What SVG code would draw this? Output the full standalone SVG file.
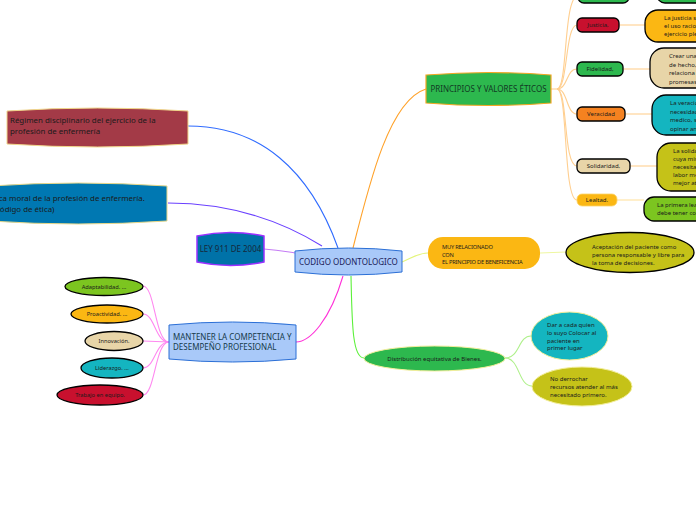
<svg xmlns="http://www.w3.org/2000/svg" width="696" height="520" viewBox="0 0 696 520">
<style>
text{font-family:"Noto Sans","Open Sans",sans-serif;fill:#1b1b1b}
.big{font-size:8px}
.mid{font-size:7.9px}
.sm{font-size:6px}
.xs{font-size:5.7px}
.blk{stroke:#000;stroke-width:1.3}
.c{fill:none;stroke-width:1.1}
.or{stroke:#ffcf90}
.lg{stroke:#aef08a}
.pk{stroke:#ff88f0}
</style>
<rect width="696" height="520" fill="#fff"/>
<g id="connectors">
<path class="c" d="M188,126 C260,126 310,170 338,248" stroke="#2f6bff" stroke-width="1.4"/>
<path class="c" d="M168,203 C230,203 280,220 322,246" stroke="#6a40ff" stroke-width="1.4"/>
<path class="c" d="M264,249 C280,250 288,252 295,253" stroke="#c57cf5" stroke-width="1.4"/>
<path class="c" d="M353,248 C370,180 390,100 426,89" stroke="#ffa22a" stroke-width="1.4"/>
<path class="c" d="M402,262 C412,258 418,253 428,253" stroke="#e4f57a" stroke-width="1.4"/>
<path class="c" d="M343,276 C330,320 310,342 296,342" stroke="#ff30d8" stroke-width="1.4"/>
<path class="c" d="M351,276 C352,320 352,358 364,358" stroke="#5cf03a" stroke-width="1.4"/>
<path class="c or" d="M551,89 L557,89"/>
<path class="c or" d="M557,89 C568,89 563,-4 578,-4"/>
<path class="c or" d="M557,89 C568,89 565,25 577,25"/>
<path class="c or" d="M557,89 C568,89 566,69 577,69"/>
<path class="c or" d="M557,89 C568,89 566,114 577,114"/>
<path class="c or" d="M557,89 C568,89 563,166 577,166"/>
<path class="c or" d="M557,89 C568,89 563,200 577,200"/>
<path class="c or" d="M619,25 L645,25"/>
<path class="c or" d="M623,69 L650,69"/>
<path class="c or" d="M625,114 L652,114"/>
<path class="c or" d="M630,166 L657,166"/>
<path class="c" d="M617,200 L644,200" stroke="#ffe2a0"/>
<path class="c" d="M540,253 L566,252" stroke="#eef7a0"/>
<path class="c lg" d="M505,358 C520,358 518,336 531,336"/>
<path class="c lg" d="M505,358 C520,358 518,386 532,386"/>
<path class="c pk" d="M169,342 C155,342 155,286 143,286"/>
<path class="c pk" d="M169,342 C155,342 155,314 143,314"/>
<path class="c pk" d="M169,342 L143,341"/>
<path class="c pk" d="M169,342 C155,342 155,368 143,368"/>
<path class="c pk" d="M169,342 C155,342 155,395 143,395"/>
</g>
<g id="n-center">
<path d="M295,251 Q348.5,245 402,251 L402,272 Q348.5,278 295,272 Z" fill="#a9c9f9" stroke="#2b6fd6" stroke-width="1"/>
<text class="big" x="348.5" y="264.5" text-anchor="middle" style="fill:#1c1c5a">CODIGO ODONTOLOGICO</text>
</g>
<g id="n-ley">
<path d="M197,236 Q230.5,229 264,236 L264,262 Q230.5,269 197,262 Z" fill="#0072a8" stroke="#9b30ff" stroke-width="1.5"/>
<text class="big" x="230.5" y="252" text-anchor="middle" style="fill:#16283a">LEY 911 DE 2004</text>
</g>
<g id="n-regimen">
<path d="M7,111 Q97.5,105 188,111 L188,144 Q97.5,150 7,144 Z" fill="#a33a47" stroke="#f0d68a" stroke-width="1"/>
<text class="mid" x="10" y="123">Régimen disciplinario del ejercicio de la</text>
<text class="mid" x="10" y="134">profesión de enfermería</text>
</g>
<g id="n-etica">
<path d="M-10,186 Q78,180 167,186 L167,221 Q78,227 -10,221 Z" fill="#0078b2" stroke="#e8d88a" stroke-width="1"/>
<text class="mid" x="-10.5" y="201">Ética moral de la profesión de enfermería.</text>
<text class="mid" x="-7.5" y="212">(Código de ética)</text>
</g>
<g id="n-mantener">
<path d="M169,325 Q232.5,319 296,325 L296,359 Q232.5,365 169,359 Z" fill="#a9c9f9" stroke="#2b6fd6" stroke-width="1"/>
<text class="big" x="173" y="340" style="fill:#163a4a">MANTENER LA COMPETENCIA Y</text>
<text class="big" x="173" y="350" style="fill:#163a4a">DESEMPEÑO PROFESIONAL</text>
</g>
<g id="n-adapt">
<ellipse cx="104" cy="286.5" rx="39" ry="9" fill="#7cc520" class="blk"/>
<text class="xs" x="104" y="288.5" text-anchor="middle">Adaptabilidad. ...</text>
</g>
<g id="n-proact">
<ellipse cx="107" cy="314" rx="36" ry="9" fill="#fbb713" class="blk"/>
<text class="xs" x="107" y="316" text-anchor="middle">Proactividad. ...</text>
</g>
<g id="n-innov">
<ellipse cx="114" cy="341" rx="29" ry="9.5" fill="#e8d5a8" class="blk"/>
<text class="xs" x="114" y="343" text-anchor="middle">Innovación.</text>
</g>
<g id="n-lider">
<ellipse cx="112" cy="368" rx="31" ry="10" fill="#14b5c0" class="blk"/>
<text class="xs" x="112" y="370" text-anchor="middle">Liderazgo. ...</text>
</g>
<g id="n-trabajo">
<ellipse cx="100" cy="395" rx="43" ry="10" fill="#c8102e" class="blk"/>
<text class="xs" x="100" y="397" text-anchor="middle">Trabajo en equipo.</text>
</g>
<g id="n-principios">
<path d="M426,75 Q488.5,70 551,75 L551,103 Q488.5,108 426,103 Z" fill="#2db84e" stroke="#f5a623" stroke-width="1.2"/>
<text class="big" x="488.5" y="92" text-anchor="middle" style="fill:#123a24">PRINCIPIOS Y VALORES ÉTICOS</text>
</g>
<g id="n-top1">
<rect x="578" y="-12" width="51" height="15" rx="6" fill="#2db84e" class="blk"/>
</g>
<g id="n-top1d">
<rect x="657" y="-20" width="60" height="23" rx="8" fill="#2db84e" class="blk"/>
</g>
<g id="n-justicia">
<rect x="577" y="18" width="42" height="14" rx="5" fill="#c8102e" class="blk"/>
<text class="sm" x="598" y="27" text-anchor="middle">Justicia,</text>
</g>
<g id="n-justicia-d">
<rect x="645" y="10" width="70" height="32" rx="13" fill="#fbb713" class="blk"/>
<text class="sm" x="664" y="19.5">La justicia se</text>
<text class="sm" x="664" y="27.5">el uso racional</text>
<text class="sm" x="664" y="35.5">ejercicio pleno</text>
</g>
<g id="n-fidelidad">
<rect x="577" y="62" width="46" height="14" rx="5" fill="#2db84e" class="blk"/>
<text class="sm" x="600" y="71" text-anchor="middle">Fidelidad,</text>
</g>
<g id="n-fidelidad-d">
<rect x="650" y="48" width="70" height="40" rx="14" fill="#e8d5a8" class="blk"/>
<text class="sm" x="669" y="58">Crear una</text>
<text class="sm" x="669" y="66.5">de hecho,</text>
<text class="sm" x="669" y="75">relaciona</text>
<text class="sm" x="669" y="83.5">promesas</text>
</g>
<g id="n-veracidad">
<rect x="577" y="107" width="48" height="14" rx="5" fill="#f58220" class="blk"/>
<text class="sm" x="601" y="116" text-anchor="middle">Veracidad</text>
</g>
<g id="n-veracidad-d">
<rect x="652" y="95" width="70" height="40" rx="14" fill="#14b5c0" class="blk"/>
<text class="sm" x="670" y="105">La veracidad</text>
<text class="sm" x="670" y="113.5">necesidad</text>
<text class="sm" x="670" y="122">medico, se</text>
<text class="sm" x="670" y="130.5">opinar ante</text>
</g>
<g id="n-solidaridad">
<rect x="577" y="159" width="53" height="14" rx="5" fill="#e8d5a8" class="blk"/>
<text class="sm" x="603.5" y="168" text-anchor="middle">Solidaridad,</text>
</g>
<g id="n-solidaridad-d">
<rect x="657" y="143" width="70" height="48" rx="14" fill="#c5c218" class="blk"/>
<text class="sm" x="673" y="152.5">La solidaridad</text>
<text class="sm" x="673" y="160.5">cuya misión</text>
<text class="sm" x="673" y="168.5">necesitan</text>
<text class="sm" x="673" y="177">labor médica</text>
<text class="sm" x="673" y="185">mejor atención</text>
</g>
<g id="n-lealtad">
<rect x="577" y="194" width="40" height="12" rx="5" fill="#fbb713" stroke="#fdd36a" stroke-width="0.8"/>
<text class="sm" x="597" y="202" text-anchor="middle">Lealtad.</text>
</g>
<g id="n-lealtad-d">
<rect x="644" y="197" width="70" height="24" rx="10" fill="#7cc520" class="blk"/>
<text class="sm" x="657" y="207">La primera lealtad</text>
<text class="sm" x="657" y="215">debe tener con</text>
</g>
<g id="n-muy">
<rect x="428" y="237" width="112" height="32" rx="15" fill="#fbb713"/>
<text class="xs" x="442" y="249" style="letter-spacing:-0.2px">MUY RELACIONADO</text>
<text class="xs" x="442" y="256.5" style="letter-spacing:-0.2px">CON</text>
<text class="xs" x="442" y="264" style="letter-spacing:-0.2px">EL PRINCIPIO DE BENEFICENCIA</text>
</g>
<g id="n-aceptacion">
<ellipse cx="630" cy="252.5" rx="64" ry="20" fill="#c5c218" class="blk"/>
<text class="sm" x="592" y="249">Aceptación del paciente como</text>
<text class="sm" x="592" y="257">persona responsable y libre para</text>
<text class="sm" x="592" y="265">la toma de decisiones.</text>
</g>
<g id="n-distribucion">
<ellipse cx="434.5" cy="358.5" rx="70.5" ry="12.5" fill="#2db84e" stroke="#f3ee9a" stroke-width="1"/>
<text class="sm" x="434.5" y="360.5" text-anchor="middle">Distribución equitativa de Bienes.</text>
</g>
<g id="n-dar">
<ellipse cx="569.5" cy="336" rx="38.5" ry="24" fill="#14b5c0" stroke="#f3ee9a" stroke-width="1"/>
<text class="sm" x="547" y="327">Dar a cada quien</text>
<text class="sm" x="547" y="335">lo suyo Colocar al</text>
<text class="sm" x="547" y="342.5">paciente en</text>
<text class="sm" x="547" y="350">primer lugar</text>
</g>
<g id="n-derrochar">
<ellipse cx="582" cy="386.5" rx="50" ry="19.5" fill="#c5c218" stroke="#f3ee9a" stroke-width="1"/>
<text class="sm" x="550" y="381">No derrochar</text>
<text class="sm" x="550" y="389">recursos atender al más</text>
<text class="sm" x="550" y="397">necesitado primero.</text>
</g>
</svg>
